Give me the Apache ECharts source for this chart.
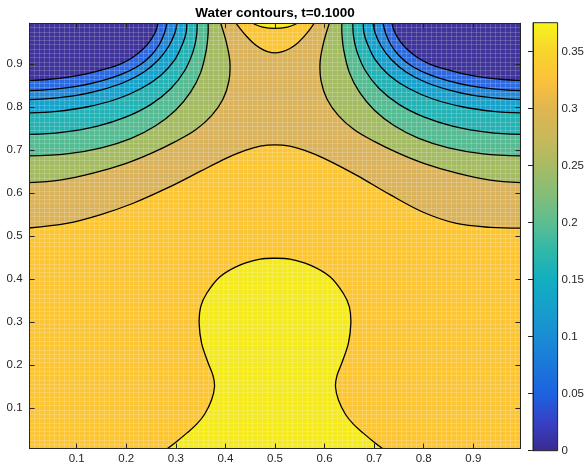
<!DOCTYPE html>
<html><head><meta charset="utf-8">
<script src="https://cdn.jsdelivr.net/npm/echarts@6/dist/echarts.min.js"></script>
<style>html,body{margin:0;padding:0;background:#fff}#c{width:587px;height:465px}</style>
</head><body><div id="c"></div><script>
// ---------- data ----------
const titleText = 'Water contours, t=0.1000';
const axisRange = [0.005, 0.995];
const colorRange = [0, 0.3754];
const domainBox = [[0,0],[1,0],[1,1],[0,1]];

// contour lines, left corner family (outermost = L7)
const L1L = [[0,0.862],[0.04,0.864],[0.08,0.869],[0.12,0.877],[0.16,0.889],[0.19,0.901],[0.215,0.917],[0.235,0.936],[0.25,0.957],[0.26,0.978],[0.265,1.0]];
const L2L = [[0,0.838],[0.05,0.841],[0.1,0.848],[0.15,0.861],[0.19,0.876],[0.225,0.896],[0.25,0.92],[0.267,0.946],[0.277,0.972],[0.283,1.0]];
const L3L = [[0,0.817],[0.05,0.82],[0.1,0.827],[0.15,0.84],[0.195,0.857],[0.235,0.881],[0.265,0.91],[0.286,0.942],[0.298,0.972],[0.303,1.0]];
const L4L = [[0,0.786],[0.06,0.79],[0.12,0.8],[0.18,0.818],[0.23,0.843],[0.27,0.874],[0.298,0.91],[0.314,0.948],[0.321,0.975],[0.322,1.0]];
const L5L = [[0,0.736],[0.07,0.741],[0.14,0.755],[0.2,0.777],[0.25,0.806],[0.29,0.843],[0.318,0.885],[0.335,0.93],[0.342,0.968],[0.343,1.0]];
const L6L = [[0,0.686],[0.08,0.691],[0.15,0.705],[0.21,0.727],[0.26,0.757],[0.3,0.793],[0.33,0.835],[0.35,0.88],[0.361,0.93],[0.365,0.97],[0.365,1.0]];
const L7L = [[0,0.624],[0.066,0.630],[0.133,0.646],[0.2,0.669],[0.25,0.692],[0.3,0.72],[0.34,0.747],[0.372,0.78],[0.395,0.818],[0.407,0.86],[0.409,0.905],[0.402,0.95],[0.389,1.0]];
// right corner family
const L1R = [[1,0.862],[0.96,0.864],[0.92,0.869],[0.88,0.877],[0.84,0.889],[0.81,0.901],[0.785,0.917],[0.765,0.936],[0.75,0.957],[0.74,0.978],[0.735,1.0]];
const L2R = [[1,0.838],[0.95,0.841],[0.9,0.848],[0.85,0.861],[0.81,0.876],[0.775,0.896],[0.75,0.92],[0.733,0.946],[0.723,0.972],[0.717,1.0]];
const L3R = [[1,0.817],[0.95,0.82],[0.9,0.827],[0.85,0.84],[0.805,0.857],[0.765,0.881],[0.735,0.91],[0.714,0.942],[0.702,0.972],[0.697,1.0]];
const L4R = [[1,0.786],[0.94,0.79],[0.88,0.8],[0.82,0.818],[0.77,0.843],[0.73,0.874],[0.702,0.91],[0.686,0.948],[0.679,0.975],[0.678,1.0]];
const L5R = [[1,0.736],[0.93,0.741],[0.86,0.755],[0.8,0.777],[0.75,0.806],[0.71,0.843],[0.682,0.885],[0.665,0.93],[0.658,0.968],[0.657,1.0]];
const L6R = [[1,0.686],[0.92,0.691],[0.85,0.705],[0.79,0.727],[0.74,0.757],[0.7,0.793],[0.67,0.835],[0.65,0.88],[0.639,0.93],[0.635,0.97],[0.635,1.0]];
const L7R = [[1,0.624],[0.934,0.630],[0.867,0.646],[0.8,0.669],[0.75,0.692],[0.7,0.72],[0.66,0.747],[0.628,0.78],[0.605,0.818],[0.593,0.86],[0.591,0.905],[0.598,0.95],[0.611,1.0]];
// the wide arch across the middle
const arch = [[0,0.518],[0.08,0.529],[0.147,0.549],[0.214,0.576],[0.282,0.611],[0.349,0.65],[0.4,0.68],[0.44,0.699],[0.47,0.709],[0.5,0.712],[0.53,0.709],[0.56,0.699],[0.6,0.68],[0.665,0.641],[0.732,0.596],[0.799,0.555],[0.866,0.529],[0.934,0.520],[1,0.518]];
// top centre dip and small top bubble
const topDip = [[0.418,1.0],[0.43,0.982],[0.443,0.964],[0.456,0.949],[0.47,0.937],[0.485,0.929],[0.5,0.926],[0.515,0.929],[0.53,0.936],[0.544,0.947],[0.557,0.962],[0.57,0.98],[0.582,1.0]];
const topBubble = [[0.45,1.0],[0.46,0.992],[0.475,0.986],[0.5,0.983],[0.525,0.986],[0.54,0.992],[0.55,1.0]];
// bottom bubble
const bottomBubble = [[0.277,0],[0.30,0.02],[0.322,0.041],[0.342,0.062],[0.358,0.085],[0.372,0.118],[0.378,0.149],[0.375,0.175],[0.365,0.205],[0.352,0.25],[0.347,0.297],[0.350,0.335],[0.362,0.366],[0.389,0.405],[0.429,0.432],[0.470,0.446],[0.5,0.448],[0.53,0.446],[0.571,0.432],[0.611,0.405],[0.638,0.366],[0.65,0.335],[0.653,0.297],[0.648,0.25],[0.635,0.205],[0.625,0.175],[0.622,0.149],[0.628,0.118],[0.642,0.085],[0.658,0.062],[0.678,0.041],[0.70,0.02],[0.723,0]];

// colourbar stops (value, colour)
const cbarValues = [0, 0.025, 0.05, 0.075, 0.1, 0.125, 0.15, 0.175, 0.2, 0.225, 0.25, 0.275, 0.3, 0.325, 0.35, 0.3754];
const cbarColors = ['#3a2b8f','#3740c4','#1d62e0','#1b77da','#1a8cd4','#169fcb','#12aec0','#2fb8a8','#5cbd92','#84be78','#a9bb64','#c9b85a','#e0b650','#fbc23a','#f8d42c','#f7f51a'];

// ---------- styles ----------
const C = {purple:'#3f349a', blue1:'#2c68e0', blue2:'#2288d8', cyan:'#17a2cc', teal:'#25b2b4',
  tealgreen:'#55bb92', olive:'#a4bb62', tan:'#dab35a', orange:'#fcc534', yellow:'#f5ea1e'};
const fills = [
  {pts: domainBox, color: C.orange},
  {pts: arch.concat([[1,1],[0,1]]), color: C.tan},
  {pts: topDip, color: C.orange},
  {pts: topBubble, color: C.yellow},
  {pts: bottomBubble, color: C.yellow},
  {pts: L7L.concat([[0,1]]), color: C.olive}, {pts: L7R.concat([[1,1]]), color: C.olive},
  {pts: L6L.concat([[0,1]]), color: C.tealgreen}, {pts: L6R.concat([[1,1]]), color: C.tealgreen},
  {pts: L5L.concat([[0,1]]), color: C.teal}, {pts: L5R.concat([[1,1]]), color: C.teal},
  {pts: L4L.concat([[0,1]]), color: C.cyan}, {pts: L4R.concat([[1,1]]), color: C.cyan},
  {pts: L3L.concat([[0,1]]), color: C.blue2}, {pts: L3R.concat([[1,1]]), color: C.blue2},
  {pts: L2L.concat([[0,1]]), color: C.blue1}, {pts: L2R.concat([[1,1]]), color: C.blue1},
  {pts: L1L.concat([[0,1]]), color: C.purple}, {pts: L1R.concat([[1,1]]), color: C.purple}
];
const lines = [L1L,L2L,L3L,L4L,L5L,L6L,L7L,L1R,L2R,L3R,L4R,L5R,L6R,L7R,arch,topDip,topBubble,bottomBubble];

const AX = '#262626';
const FONT = "'Liberation Sans', Arial, Helvetica, sans-serif";
const stops = cbarValues.map((v,i)=>({offset: 1 - v/colorRange[1], color: cbarColors[i]})).reverse();

function mainAxis(pos, showLabel, gridIndex) {
  return {type:'value', gridIndex: 0, position: pos, min: axisRange[0], max: axisRange[1], splitNumber: 10, z: 6,
    axisLine:{show:true, onZero:false, lineStyle:{color:AX, width:1}},
    axisTick:{show:true, inside:true, length:5, lineStyle:{color:AX}},
    axisLabel:{show:showLabel, color:AX, fontSize:11.5, fontFamily:FONT, margin: pos==='left'?7:4, showMinLabel:false, showMaxLabel:false},
    splitLine:{show:false}};
}
function meshAxis() {
  return {type:'value', gridIndex:0, min: axisRange[0], max: axisRange[1], interval: 0.01, z: 3,
    axisLine:{show:false}, axisTick:{show:false}, axisLabel:{show:false},
    splitLine:{show:true, lineStyle:{color:'rgba(255,255,255,0.18)', width:1}}};
}

const option = {
  animation: false,
  backgroundColor: '#fff',
  title: {text: titleText, left: 275, top: 6, textAlign: 'center', padding: 0,
    textStyle: {fontSize: 13.5, fontWeight: 'bold', color: '#000', fontFamily: FONT}},
  grid: [
    {left: 29.6, right: 66.6, top: 23.2, bottom: 16.4},
    {left: 533, width: 26, top: 22.7, bottom: 14.3}
  ],
  xAxis: [
    mainAxis('bottom', true), mainAxis('top', false), meshAxis(),
    {type:'value', gridIndex:1, min:0, max:1, show:false}
  ],
  yAxis: [
    mainAxis('left', true), mainAxis('right', false), meshAxis(),
    {type:'value', gridIndex:1, position:'right', min: colorRange[0], max: colorRange[1], interval: 0.05, z: 6,
      axisLine:{show:true, lineStyle:{color:AX}},
      axisTick:{show:true, inside:true, length:5, lineStyle:{color:AX}},
      axisLabel:{color:AX, fontSize:11.5, fontFamily:FONT, margin:4, showMaxLabel:false},
      splitLine:{show:false}}
  ],
  series: [
    {type:'custom', xAxisIndex:0, yAxisIndex:0, z:1, clip:true, silent:true,
      data: fills.map(()=>[0.5,0.5]),
      renderItem: (params, api) => {
        const r = fills[params.dataIndex];
        return {type:'polygon', shape:{points: r.pts.map(p=>api.coord(p))}, style:{fill:r.color}};
      }},
    {type:'custom', xAxisIndex:0, yAxisIndex:0, z:5, clip:true, silent:true,
      data: lines.map(()=>[0.5,0.5]),
      renderItem: (params, api) => {
        const l = lines[params.dataIndex];
        return {type:'polyline', shape:{points: l.map(p=>api.coord(p)), smooth:0.35}, style:{stroke:'#000', lineWidth:1.3, fill:null}};
      }},
    {type:'custom', xAxisIndex:3, yAxisIndex:3, z:2, silent:true,
      data: [[0.5, 0.1]],
      renderItem: (params, api) => {
        const a = api.coord([0, colorRange[1]]);
        const b = api.coord([1, colorRange[0]]);
        return {type:'rect', shape:{x:a[0], y:a[1], width:b[0]-a[0], height:b[1]-a[1]},
          style:{fill: new echarts.graphic.LinearGradient(0,0,0,1, stops), stroke:AX, lineWidth:1}};
      }}
  ]
};
const chart = echarts.init(document.getElementById('c'), null, {renderer:'canvas'});
chart.setOption(option);
</script></body></html>
